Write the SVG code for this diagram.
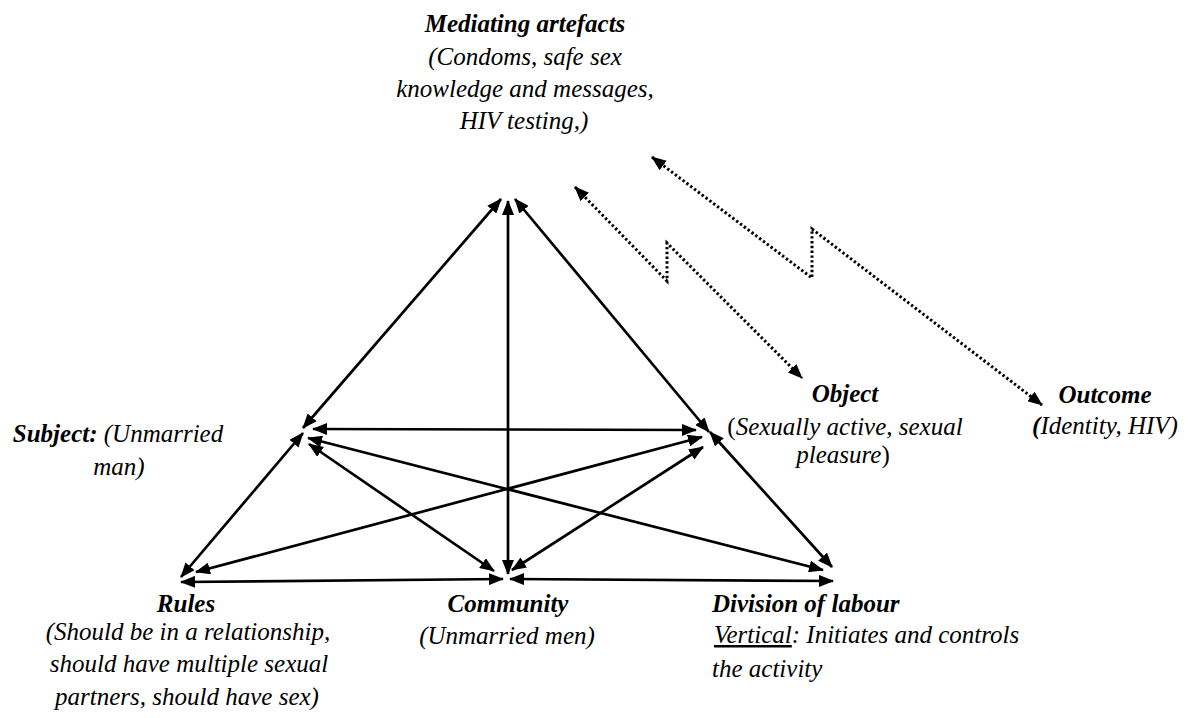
<svg xmlns="http://www.w3.org/2000/svg" width="1188" height="718" viewBox="0 0 1188 718">
<defs>
<style>
.t{font-family:"Liberation Serif","Times New Roman",serif;font-size:25px;font-style:italic;fill:#000}
.b{font-weight:bold}
.n{font-style:normal}
.e{stroke:#000;stroke-width:2.7;fill:none;marker-start:url(#ah);marker-end:url(#ah)}
.d{stroke:#000;stroke-width:3;fill:none;stroke-dasharray:2.4 2.4;marker-start:url(#ah);marker-end:url(#ah)}
</style>
<marker id="ah" viewBox="0 0 15 12" refX="14" refY="6" markerWidth="15" markerHeight="12" markerUnits="userSpaceOnUse" orient="auto-start-reverse">
<path d="M0,0 L15,6 L0,12 z" fill="#000"/>
</marker>
</defs>
<rect width="1188" height="718" fill="#fff"/>
<g id="connectors">
<line class="e" x1="501" y1="199" x2="303" y2="428"/>
<line class="e" x1="508" y1="201" x2="508" y2="574"/>
<line class="e" x1="515" y1="199" x2="709" y2="432"/>
<line class="e" x1="313" y1="429" x2="696" y2="430"/>
<line class="e" x1="303" y1="433" x2="181" y2="577"/>
<line class="e" x1="309" y1="444" x2="494" y2="571"/>
<line class="e" x1="308" y1="438" x2="823" y2="570"/>
<line class="e" x1="710" y1="432" x2="832" y2="567"/>
<line class="e" x1="702" y1="437" x2="196" y2="572"/>
<line class="e" x1="703" y1="447" x2="512" y2="570"/>
<line class="e" x1="181" y1="582" x2="503" y2="579"/>
<line class="e" x1="510" y1="579" x2="833" y2="581"/>
<polyline class="d" points="575,187 667,281 667,243 802,378"/>
<polyline class="d" points="652,157 812,278 812,229 1042,405"/>
</g>
<g id="mediating">
<text class="t" text-anchor="middle" x="525" y="32"><tspan class="b">Mediating artefacts</tspan></text>
<text class="t" text-anchor="middle" x="525" y="65">(Condoms, safe sex</text>
<text class="t" text-anchor="middle" x="525" y="97">knowledge and messages,</text>
<text class="t" text-anchor="middle" x="524" y="129">HIV testing,)</text>
</g>
<g id="subject">
<text class="t" text-anchor="middle" x="118" y="442"><tspan class="b">Subject:</tspan> (Unmarried</text>
<text class="t" text-anchor="middle" x="119" y="475">man)</text>
</g>
<g id="object">
<text class="t b" text-anchor="middle" x="845" y="402">Object</text>
<text class="t" text-anchor="middle" x="845" y="435"><tspan class="n">(</tspan>Sexually active, sexual</text>
<text class="t" text-anchor="middle" x="843" y="463">pleasure<tspan class="n">)</tspan></text>
</g>
<g id="outcome">
<text class="t b" text-anchor="middle" x="1105" y="403">Outcome</text>
<text class="t" text-anchor="middle" x="1105" y="434"><tspan class="b">(</tspan>Identity, HIV)</text>
</g>
<g id="rules">
<text class="t b" text-anchor="middle" x="186" y="612">Rules</text>
<text class="t" text-anchor="middle" x="188" y="640">(Should be in a relationship,</text>
<text class="t" text-anchor="middle" x="189" y="672">should have multiple sexual</text>
<text class="t" text-anchor="middle" x="187" y="705">partners, should have sex)</text>
</g>
<g id="community">
<text class="t b" text-anchor="middle" x="508" y="612">Community</text>
<text class="t" text-anchor="middle" x="507" y="644">(Unmarried men)</text>
</g>
<g id="division">
<text class="t b" x="712" y="612">Division of labour</text>
<text class="t" x="714" y="643"><tspan text-decoration="underline">Vertical</tspan>: Initiates and controls</text>
<text class="t" x="712" y="677">the activity</text>
</g>
</svg>
